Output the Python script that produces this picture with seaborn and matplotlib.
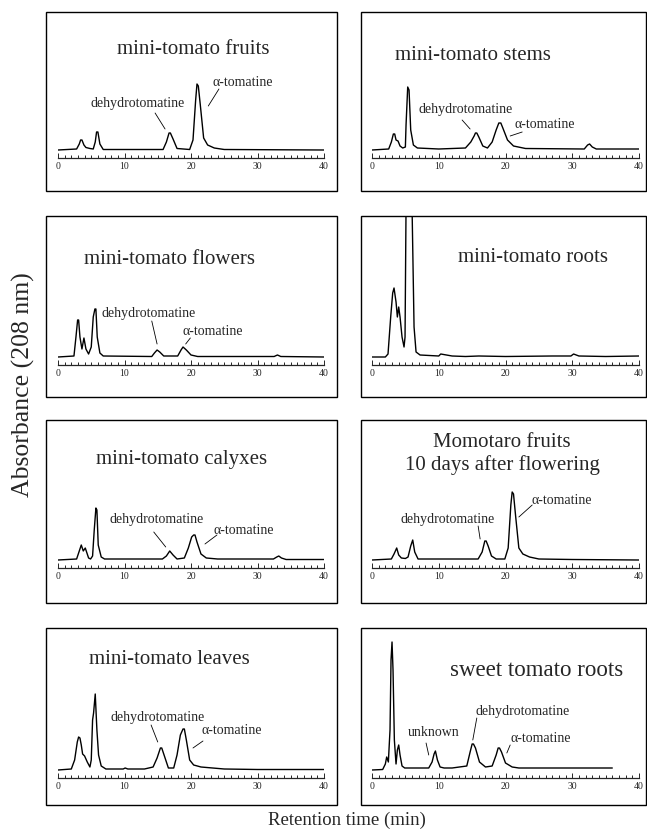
import matplotlib
matplotlib.use("Agg")
import matplotlib.pyplot as plt
from matplotlib.patches import Rectangle
from matplotlib.ticker import MultipleLocator
import pandas as pd
import seaborn as sns

# ---------------------------------------------------------------------
# HPLC traces
# t = retention time (min), a = absorbance above baseline (arbitrary units)
# ---------------------------------------------------------------------
fruits_t = [0, 2.8, 3.2, 3.4, 3.6, 3.9, 4.2, 4.8, 5.3, 5.6, 5.8, 6.0, 6.3, 6.8, 15.8, 16.3,
            16.7, 16.9, 17.3, 17.9, 19.8, 20.3, 20.7, 20.9, 21.1, 21.4, 21.9, 22.5, 23.5, 25, 40]
fruits_a = [0, 1, 6, 10, 10, 5, 2.5, 1.5, 1, 8, 18, 18, 6, 0.5, 0.5, 8,
            17, 17, 11, 1.5, 0.5, 10, 50, 66, 64, 45, 12, 5, 2, 0.5, 0]

stems_t = [0, 2.5, 2.9, 3.2, 3.4, 3.6, 3.9, 4.2, 4.6, 5.0, 5.1, 5.35, 5.55, 5.8, 6.2, 6.8, 10,
           14.0, 14.8, 15.3, 15.5, 15.7, 16.0, 16.6, 17.3, 18.0, 18.6, 19.0, 19.3, 19.6, 20.3,
           21.2, 23, 31.8, 32.3, 32.6, 33.0, 33.6, 40]
stems_a = [0, 1, 8, 16, 16, 10, 9, 4, 2, 3, 25, 63, 60, 20, 5, 2, 1,
           2, 8, 14, 17, 17, 13, 4, 2, 8, 20, 27, 27, 22, 10,
           4, 1.5, 1, 5, 6, 3, 1, 1]

flowers_t = [0, 2.4, 2.7, 2.95, 3.1, 3.3, 3.6, 3.9, 4.2, 4.6, 5.0, 5.3, 5.55, 5.7, 5.9, 6.3,
             6.8, 14.1, 14.5, 14.9, 15.3, 15.9, 18.0, 18.5, 18.8, 19.3, 20.0, 21, 32.5, 33.0,
             33.5, 40]
flowers_a = [0, 1, 20, 37, 37, 20, 8, 19, 8, 3, 10, 40, 48, 48, 20, 4,
             1, 0.5, 4, 7, 5, 1, 1, 7, 10, 7, 2, 0.5, 0.5, 2,
             0.5, 0]

roots_t = [0, 2.0, 2.4, 2.8, 3.1, 3.3, 3.6, 3.8, 4.0, 4.2, 4.5, 4.8, 4.95, 5.1, 5.55, 6.0,
           6.3, 6.6, 7.2, 10, 10.3, 12, 14, 16, 20, 27, 29.8, 30.2, 31, 35, 40]
roots_a = [0, 0, 3, 40, 64, 69, 55, 40, 50, 40, 20, 10, 20, 150, 300, 150,
           30, 5, 2, 1, 3, 1, 0.5, 1, 0.5, 1, 1, 3, 1, 0.5, 1]

calyx_t = [0, 2.8, 3.2, 3.5, 3.8, 4.1, 4.3, 4.6, 4.9, 5.2, 5.45, 5.7, 5.85, 6.05, 6.5, 7.0,
           15.7, 16.3, 16.8, 17.3, 17.9, 19.0, 19.6, 20.1, 20.4, 20.6, 20.9, 21.5, 22.3, 24,
           32.4, 32.9, 33.2, 33.6, 34.3, 40]
calyx_a = [0, 1, 9, 15, 9, 12, 8, 2, 1, 4, 30, 52, 50, 15, 3, 1,
           1, 4, 9, 5, 1, 2, 12, 23, 25, 25, 18, 6, 2, 1,
           1, 3, 4, 2, 0.5, 0.5]

momo_t = [0, 2.9, 3.3, 3.7, 4.0, 4.4, 5.0, 5.4, 5.8, 6.1, 6.4, 6.9, 15.9, 16.5, 16.9,
          17.1, 17.4, 17.9, 18.6, 19.9, 20.4, 20.8, 21.0, 21.2, 21.5, 22.0, 22.6, 23.6, 25, 30, 40]
momo_a = [0, 1, 6, 12, 5, 2, 1.5, 3, 14, 20, 8, 1, 1, 8, 19,
          19, 14, 4, 1, 1, 12, 55, 68, 66, 45, 12, 6, 3, 1, 0.5, 0]

leaves_t = [0, 2.0, 2.5, 2.9, 3.1, 3.3, 3.5, 3.7, 4.0, 4.4, 4.8, 5.0, 5.2, 5.35, 5.6, 5.85,
            6.1, 6.5, 7.2, 9.8, 10.1, 10.5, 13, 14.3, 14.9, 15.4, 15.6, 16.0, 16.6, 17.4, 17.9,
            18.4, 18.8, 19.0, 19.3, 19.8, 20.4, 21.5, 25, 30, 40]
leaves_a = [0, 1, 10, 28, 33, 32, 25, 16, 14, 8, 3, 10, 50, 57, 76, 40,
            15, 4, 1, 1, 2, 1, 1, 3, 12, 22, 22, 14, 2, 2, 15,
            35, 41, 41, 30, 10, 5, 3, 1, 0.5, 0.5]

sweet_t = [0, 1.6, 2.0, 2.2, 2.45, 2.7, 2.85, 3.0, 3.15, 3.35, 3.6, 3.8, 4.0, 4.2, 4.5,
           4.9, 6, 8.5, 9.0, 9.3, 9.5, 9.8, 10.2, 10.8, 12, 14.2, 14.7, 15.0, 15.2, 15.5, 16.1,
           17.0, 18.0, 18.6, 18.9, 19.1, 19.4, 20.0, 21, 22, 25, 36]
sweet_a = [0, 0.5, 6, 13, 8, 40, 110, 128, 100, 30, 6, 20, 25, 15, 4,
           2, 2, 2, 8, 16, 19, 10, 3, 2, 2, 4, 18, 26, 26, 22, 8,
           3, 4, 15, 22, 22, 18, 7, 3, 2, 2, 2]

titles = ["mini-tomato fruits", "mini-tomato stems", "mini-tomato flowers",
          "mini-tomato roots", "mini-tomato calyxes", "Momotaro fruits\n10 days after flowering",
          "mini-tomato leaves", "sweet tomato roots"]
traces = [(fruits_t, fruits_a), (stems_t, stems_a), (flowers_t, flowers_a),
          (roots_t, roots_a), (calyx_t, calyx_a), (momo_t, momo_a),
          (leaves_t, leaves_a), (sweet_t, sweet_a)]

# peak labels: (text, text pos, leader start, leader end) in (min, abs)
peak_labels = [
    [("dehydrotomatine", (11.9, 47), (14.6, 37), (16.1, 21)),
     ("α-tomatine", (27.8, 67), (24.2, 61), (22.6, 44))],
    [("dehydrotomatine", (14.1, 40), (13.5, 30), (14.7, 21)),
     ("α-tomatine", (25.9, 26), (22.5, 18), (20.7, 14))],
    [("dehydrotomatine", (13.7, 44), (14.1, 36), (14.9, 13)),
     ("α-tomatine", (23.2, 25), (19.9, 19), (19.2, 13))],
    [],
    [("dehydrotomatine", (14.8, 41), (14.4, 28), (16.2, 13)),
     ("α-tomatine", (28.0, 29), (23.9, 25), (22.1, 16))],
    [("dehydrotomatine", (11.4, 40), (15.9, 34), (16.2, 21)),
     ("α-tomatine", (28.5, 60), (24.0, 55), (22.0, 43))],
    [("dehydrotomatine", (15.0, 53), (14.0, 45), (15.0, 28)),
     ("α-tomatine", (26.2, 39), (21.8, 29), (20.3, 22))],
    [("unknown", (9.3, 38), (8.1, 27), (8.5, 15)),
     ("dehydrotomatine", (22.6, 58), (15.7, 52), (15.1, 30)),
     ("α-tomatine", (25.3, 32), (20.7, 25), (20.2, 17))],
]

W, H = 647, 831

sns.set_style("ticks")
plt.rcParams["font.family"] = ["Liberation Serif", "DejaVu Serif"]

fig = plt.figure(figsize=(W / 100, H / 100), dpi=100)

# panel frames in pixels
cols = [dict(box=(46, 337), axis=(58, 324)), dict(box=(361, 646), axis=(372, 639))]
rows = [dict(box=(12, 191), axis=158), dict(box=(216, 397), axis=365),
        dict(box=(420, 603), axis=568), dict(box=(628, 805), axis=778)]
title_pos = [(20.3, 100), (15.1, 95), (16.8, 98), (24.1, 100),
             (18.6, 101), (19.5, 106), (16.8, 110), (24.7, 100)]
title_size = [15, 15, 15, 15, 15, 15, 15, 16.5]
base_off = 8  # baseline sits 8 px above the time axis

for i, (t, a) in enumerate(traces):
    col = cols[i % 2]
    row = rows[i // 2]
    bx0, bx1 = col["box"]
    by0, by1 = row["box"]
    fig.add_artist(Rectangle((bx0 / W, 1 - by1 / H), (bx1 - bx0) / W, (by1 - by0) / H,
                             transform=fig.transFigure, fill=False, lw=1.0, ec="black"))

    ax0, ax1 = col["axis"]
    ay = row["axis"]
    ax = fig.add_axes([ax0 / W, 1 - ay / H, (ax1 - ax0) / W, (ay - by0 - 1) / H])
    ax.patch.set_alpha(0)

    df = pd.DataFrame({"time": t, "abs": a})
    sns.lineplot(data=df, x="time", y="abs", ax=ax, color="black", lw=1.0)

    ax.set_xlim(0, 40)
    ax.set_ylim(-base_off, ay - by0 - 1 - base_off)
    for s in ["top", "left", "right"]:
        ax.spines[s].set_visible(False)
    ax.spines["bottom"].set_linewidth(0.9)
    ax.set_yticks([])
    ax.set_xlabel("")
    ax.set_ylabel("")
    ax.xaxis.set_major_locator(MultipleLocator(10))
    ax.xaxis.set_minor_locator(MultipleLocator(1))
    ax.tick_params(axis="x", which="both", direction="in", bottom=True, width=0.7,
                   labelsize=7, pad=3)
    ax.tick_params(axis="x", which="major", length=3.5)
    ax.tick_params(axis="x", which="minor", length=2)

    tx, ty = title_pos[i]
    ax.text(tx, ty, titles[i], ha="center", va="center", fontsize=title_size[i],
            linespacing=1.15)

    for label, tpos, p0, p1 in peak_labels[i]:
        ax.text(tpos[0], tpos[1], label, ha="center", va="center", fontsize=10)
        ax.annotate("", xy=p1, xytext=p0,
                    arrowprops=dict(arrowstyle="-", lw=0.6, color="black",
                                    shrinkA=0, shrinkB=0))

fig.text(23 / W, 1 - 385 / H, "Absorbance (208 nm)", rotation=90,
         ha="center", va="center", fontsize=18.5)
fig.text(347 / W, 1 - 820 / H, "Retention time (min)", ha="center", va="center",
         fontsize=13.5)

fig.savefig("out.png", dpi=100)
